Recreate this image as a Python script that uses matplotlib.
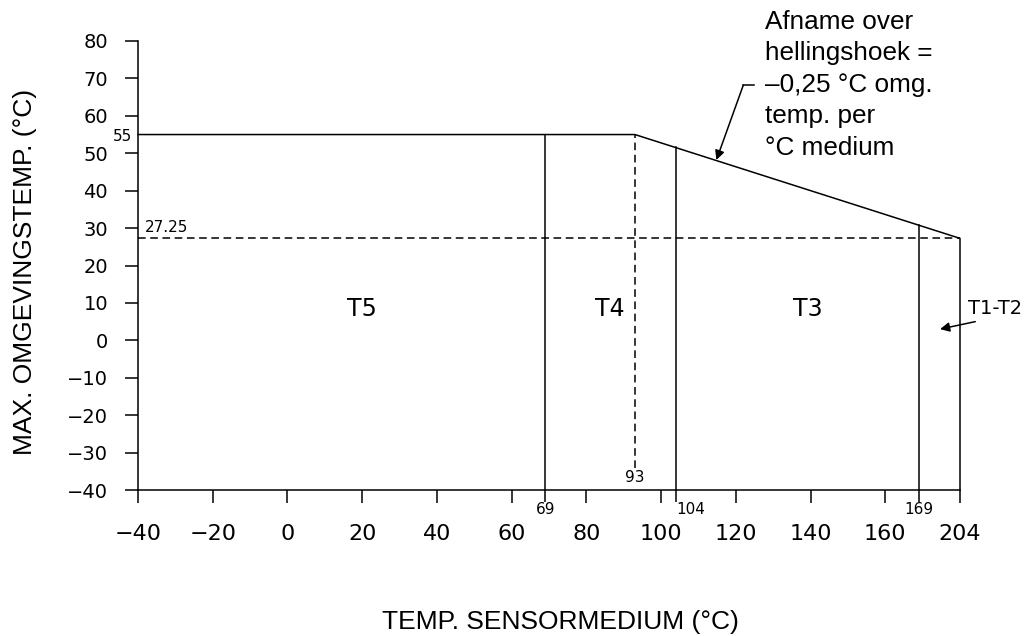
import numpy as np
import matplotlib.pyplot as plt

# boundaries of the temperature classes (sensor medium, degC)
class_bounds = [69, 104, 169]
class_tops = [55, 51.6, 30.8]          # where each boundary meets the limit curve
limit_x = [-40, 93, 204, 204]
limit_y = [55, 55, 27.25, -40]
knee_x = 93
knee_y = 55
end_y = 27.25
class_labels = ['T5', 'T4', 'T3']
class_label_x = [20, 86.4, 139.4]
xticks = [-40, -20, 0, 20, 40, 60, 80, 100, 120, 140, 160, 204]
yticks = list(range(-40, 81, 10))

# the drawing squeezes 169..204 into the width of 169..180
def fwd(x):
    x = np.asarray(x, dtype=float)
    return np.where(x <= 169, x, 169 + (x - 169) * 11.0 / 35.0)

def inv(x):
    x = np.asarray(x, dtype=float)
    return np.where(x <= 169, x, 169 + (x - 169) * 35.0 / 11.0)

cad = ['DejaVu Sans']
helv = ['Liberation Sans', 'DejaVu Sans']
lw = 1.1

fig = plt.figure(figsize=(10.29, 6.36), dpi=100)
ax = fig.add_axes([138/1029, 1 - 490/636, (960-138)/1029, (490-41)/636])
ax.set_xscale('function', functions=(fwd, inv))
ax.set_xlim(-40, 204)
ax.set_ylim(-40, 80)

for s in ['top', 'right']:
    ax.spines[s].set_visible(False)
for s in ['left', 'bottom']:
    ax.spines[s].set_linewidth(lw)

# limit curve
ax.plot(limit_x, limit_y, color='black', lw=lw, clip_on=False)
for bx, top in zip(class_bounds, class_tops):
    ax.plot([bx, bx], [-40, top], color='black', lw=lw)
ax.plot([knee_x, knee_x], [-34, knee_y], color='black', lw=lw, ls=(0, (5, 3)))
ax.plot([-40, 204], [end_y, end_y], color='black', lw=lw, ls=(0, (5, 3)))

# ticks
ax.set_xticks(xticks)
ax.set_xticklabels([str(v) if v >= 0 else '\u2212' + str(-v) for v in xticks])
ax.set_xticks(class_bounds, minor=True)
ax.set_xticklabels([str(v) for v in class_bounds], minor=True)
ax.set_yticks(yticks)
ax.set_yticklabels([str(v) if v >= 0 else '\u2212' + str(-v) for v in yticks])
ax.set_yticks([knee_y], minor=True)
ax.set_yticklabels([str(knee_y)], minor=True)
ax.tick_params(axis='x', which='major', direction='out', length=9.5, width=lw,
               pad=15, labelsize=16)
ax.tick_params(axis='x', which='minor', direction='out', length=8.5, width=lw,
               pad=0.5, labelsize=11)
ax.tick_params(axis='y', which='major', direction='out', length=9.5, width=lw,
               pad=12, labelsize=14)
ax.tick_params(axis='y', which='minor', length=0, pad=4, labelsize=11)
for lab in ax.get_xticklabels(which='both') + ax.get_yticklabels(which='both'):
    lab.set_family(cad)
ax.get_xticklabels(minor=True)[1].set_x(104)
ax.get_xticklabels(minor=True)[1].set_horizontalalignment('left')

# annotations in the plot
ax.text(-38.2, end_y + 0.8, '27.25', fontsize=11, family=cad, va='bottom', ha='left')
ax.text(knee_x, -36.6, '93', fontsize=11, family=cad, va='center', ha='center')
for name, lx in zip(class_labels, class_label_x):
    ax.text(lx, 8.5, name, fontsize=17, family=cad, ha='center', va='center')
ax.text(211, 8.5, 'T1-T2', fontsize=14, family=cad, ha='left', va='center',
        clip_on=False)
ax.annotate('', xy=(187, 3.0), xytext=(217, 5.0), annotation_clip=False,
            arrowprops=dict(arrowstyle='-|>', color='black', lw=lw,
                            mutation_scale=14, shrinkA=0, shrinkB=0))

ax.text(127.9, 88.3, 'Afname over\nhellingshoek =\n\u20130,25 \u00b0C omg.\ntemp. per\n\u00b0C medium',
        fontsize=18.8, family=helv, ha='left', va='top', linespacing=1.39,
        clip_on=False)
ax.plot([122, 124.9], [68.2, 68.2], color='black', lw=lw, clip_on=False)
ax.annotate('', xy=(114.8, 48.2), xytext=(122, 68.2), annotation_clip=False,
            arrowprops=dict(arrowstyle='-|>', color='black', lw=lw,
                            mutation_scale=14, shrinkA=0, shrinkB=0))

fig.text(25/1029, 1 - 272/636, 'MAX. OMGEVINGSTEMP. (\u00b0C)', rotation=90,
         fontsize=19, family=helv, ha='center', va='center')
fig.text(560/1029, 1 - 622/636, 'TEMP. SENSORMEDIUM (\u00b0C)',
         fontsize=19, family=helv, ha='center', va='center')

fig.savefig('out.png', dpi=100)
